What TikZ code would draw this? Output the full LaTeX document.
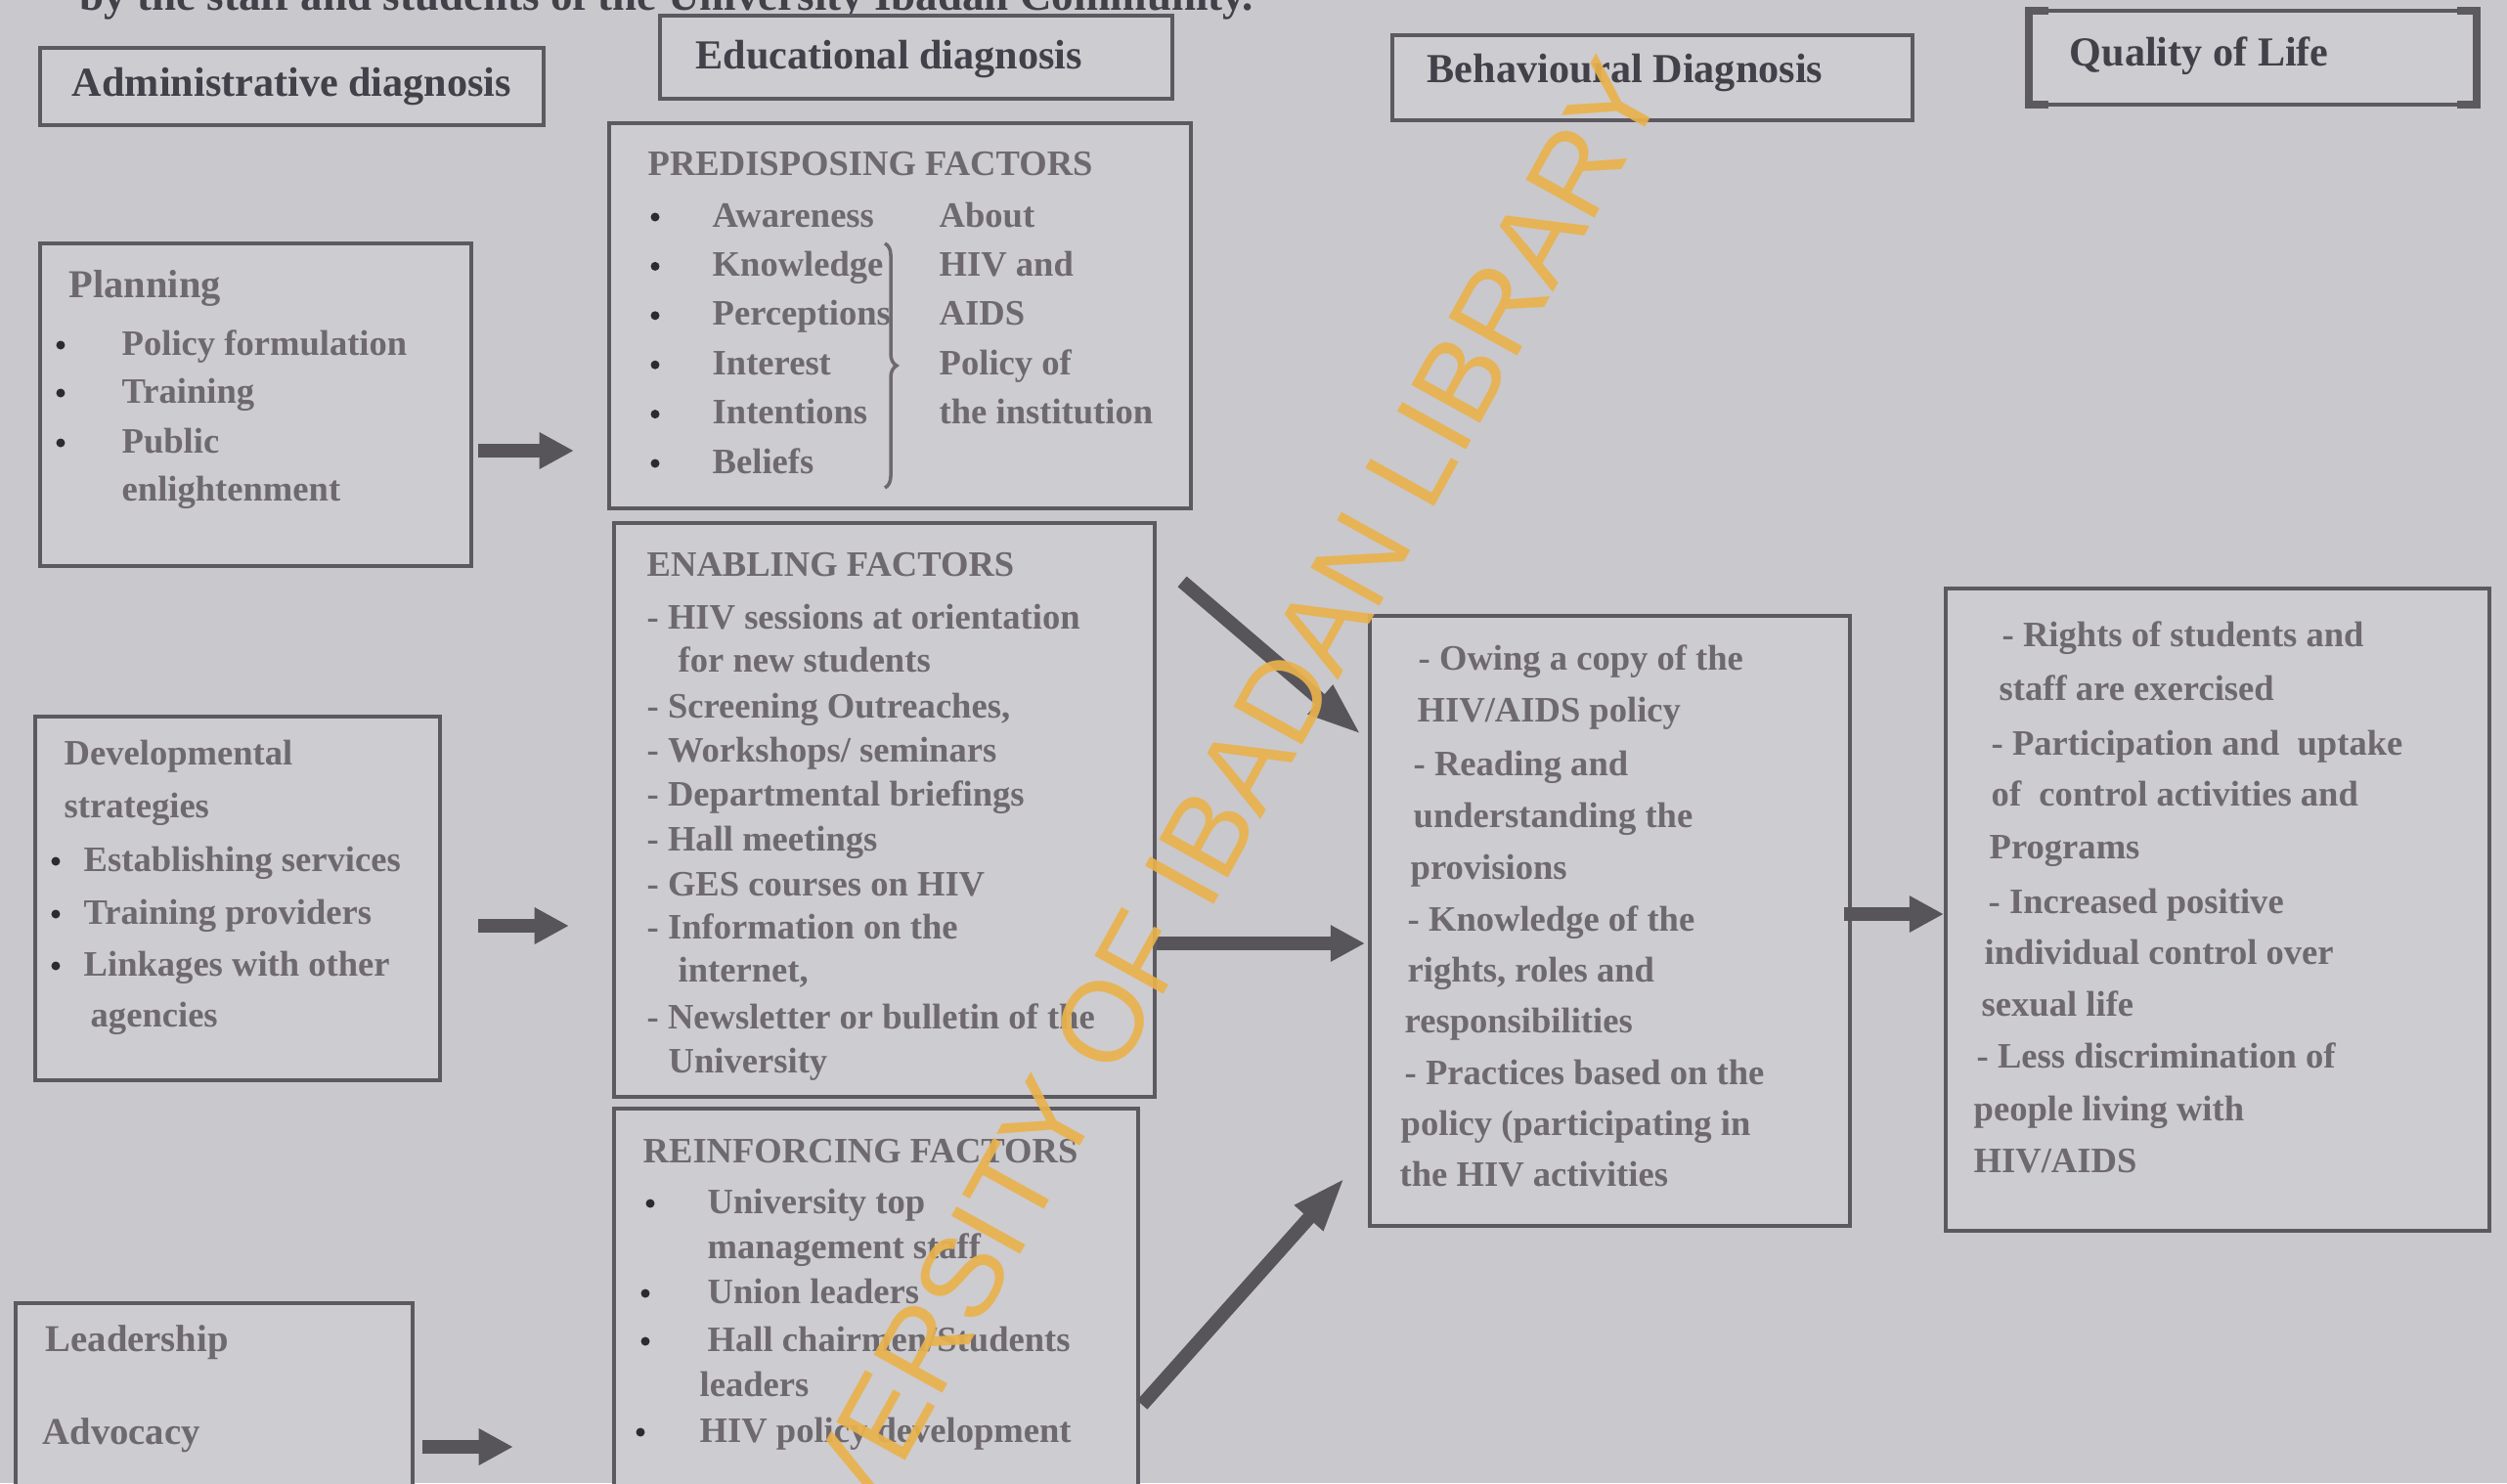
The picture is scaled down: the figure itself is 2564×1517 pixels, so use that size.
\documentclass[tikz,border=0pt]{standalone}
\usepackage{fontspec}
\setmainfont{Liberation Serif}
\newfontfamily\wmfont{Liberation Sans}
\usetikzlibrary{arrows.meta,calc,decorations.pathreplacing}
\definecolor{bgc}{HTML}{C9C8CC}
\definecolor{boxfill}{HTML}{CDCCD0}
\definecolor{edgec}{HTML}{5C5A60}
\definecolor{txtc}{HTML}{6E696D}
\definecolor{hdrc}{HTML}{42414A}
\definecolor{bulc}{HTML}{2C2B30}
\definecolor{wmc}{HTML}{E9B24C}
\definecolor{arrc}{HTML}{57555A}
\begin{document}
\begin{tikzpicture}[x=0.01cm,y=-0.01cm,
  box/.style={draw=edgec, line width=1.1pt, fill=boxfill, inner sep=0pt},
  itm/.style={anchor=base west, inner sep=0pt, text=txtc, font=\fontsize{10.4}{12}\selectfont\bfseries},
  hdr/.style={anchor=base west, inner sep=0pt, text=hdrc, font=\fontsize{12}{14}\selectfont\bfseries},
  bul/.style={circle, fill=bulc, inner sep=0pt, minimum size=0.09cm},
  blk/.style={draw=arrc, line width=4pt, -{Triangle[length=10pt,width=10pt]}},
  blkd/.style={draw=arrc, line width=4pt, -{Triangle[length=16pt,width=10pt]}}]
\useasboundingbox (0,0) rectangle (2564,1517);
\fill[bgc] (0,0) rectangle (2564,1517);
\clip (0,0) rectangle (2564,1517);

% cropped caption line at the top
\node[anchor=base west, inner sep=0pt, text=hdrc, font=\fontsize{12.8}{14}\selectfont\bfseries] (toptext) at (81,10) {by the staff and students of the University Ibadan Community.};

% column headers
\node[box, minimum width=5.15cm, minimum height=0.79cm, text=hdrc, font=\fontsize{12}{14}\selectfont\bfseries] (admin) at (298.5,88.5) {Administrative diagnosis};
\node[box, minimum width=5.24cm, minimum height=0.85cm] (edu) at (937,58.5) {};
\node[hdr] (eduT) at (711,70) {Educational diagnosis};
\node[box, minimum width=5.32cm, minimum height=0.87cm] (behh) at (1690,79.5) {};
\node[hdr] (behhT) at (1459,84) {Behavioural Diagnosis};
\node[box, draw=none, minimum width=4.54cm, minimum height=0.92cm] (qolh) at (2304,59) {};
\draw[edgec, line width=0.9pt] ([xshift=0.15cm]qolh.north west) -- ([xshift=-0.15cm]qolh.north east);
\draw[edgec, line width=0.9pt] ([xshift=0.15cm]qolh.south west) -- ([xshift=-0.15cm]qolh.south east);
\draw[edgec, line width=2.4pt] ([xshift=0.2cm]qolh.north west) -- (qolh.north west) -- (qolh.south west) -- ([xshift=0.2cm]qolh.south west);
\draw[edgec, line width=2.4pt] ([xshift=-0.2cm]qolh.north east) -- (qolh.north east) -- (qolh.south east) -- ([xshift=-0.2cm]qolh.south east);
\node[hdr] (qolhT) at (2116,67) {Quality of Life};

% administrative column
\node[box, minimum width=4.41cm, minimum height=3.30cm] (plan) at (261.5,414) {};
\node[itm, font=\fontsize{11.5}{13}\selectfont\bfseries] (planT) at (70,304) {Planning};
\foreach \y/\t [count=\i] in {353/{Policy formulation},402/Training,453/Public} {
  \node[bul] (planB\i) at (62,\y) {};
  \node[itm] (planI\i) at (124,\y+10) {\t};
}
\node[itm] (planI4) at (124,512) {enlightenment};

\node[box, minimum width=4.14cm, minimum height=3.72cm] (dev) at (243,919) {};
\node[itm] (devT1) at (65,782) {Developmental};
\node[itm] (devT2) at (65,836) {strategies};
\foreach \y/\t [count=\i] in {881/{Establishing services},935/{Training providers},988/{Linkages with other}} {
  \node[bul] (devB\i) at (57,\y) {};
  \node[itm] (devI\i) at (85,\y+10) {\t};
}
\node[itm] (devI4) at (92,1050) {agencies};

\node[box, minimum width=4.06cm, minimum height=2.07cm] (lead) at (219,1436.5) {};
\node[itm, font=\fontsize{11}{13}\selectfont\bfseries] (leadT1) at (46,1382) {Leadership};
\node[itm, font=\fontsize{11}{13}\selectfont\bfseries] (leadT2) at (43,1477) {Advocacy};

% educational column
\node[box, minimum width=5.95cm, minimum height=3.94cm] (pred) at (920.5,323) {};
\node[itm] (predT) at (662,179) {PREDISPOSING FACTORS};
\foreach \t [count=\i] in {Awareness,Knowledge,Perceptions,Interest,Intentions,Beliefs} {
  \node[bul] (predB\i) at (670,{222+50.4*(\i-1)}) {};
  \node[itm] (predI\i) at (728,{232+50.4*(\i-1)}) {\t};
}
\draw[txtc, line width=1pt, decorate, decoration={brace, amplitude=0.12cm}] (905,249) -- (905,499);
\foreach \t [count=\i] in {About,HIV and,AIDS,Policy of,the institution} {
  \node[itm] (predR\i) at (960,{232+50.4*(\i-1)}) {\t};
}

\node[box, minimum width=5.53cm, minimum height=5.87cm] (enab) at (904.5,828.5) {};
\node[itm] (enabT) at (661,589) {ENABLING FACTORS};
\foreach \x/\y/\t [count=\i] in {661/643/{- HIV sessions at orientation},693/687/{for new students},661/734/{- Screening Outreaches,},661/779/{- Workshops/ seminars},661/824/{- Departmental briefings},661/870/{- Hall meetings},661/916/{- GES courses on HIV},661/960/{- Information on the},693/1004/{internet,},661/1052/{- Newsletter or bulletin of the},683/1097/{University}} {
  \node[itm] (enabI\i) at (\x,\y) {\t};
}

\node[box, minimum width=5.36cm, minimum height=4.06cm] (reinf) at (896,1337) {};
\node[itm] (reinfT) at (657,1189) {REINFORCING FACTORS};
\foreach \x/\y/\t [count=\i] in {723/1241/{University top},723/1287/{management staff},723/1333/{Union leaders},723/1382/{Hall chairmen/Students},715/1428/{leaders},715/1475/{HIV policy development}} {
  \node[itm] (reinfI\i) at (\x,\y) {\t};
}
\foreach \x/\y [count=\i] in {665/1231,660/1323,660/1372,655/1465} {
  \node[bul] (reinfB\i) at (\x,\y) {};
}

% behavioural column
\node[box, minimum width=4.91cm, minimum height=6.24cm] (beh) at (1646.5,942) {};
\foreach \x/\y/\t [count=\i] in {1450/685/{- Owing a copy of the},1449/738/{HIV/AIDS policy},1445/793/{- Reading and},1445/846/{understanding the},1442/899/{provisions},1439/952/{- Knowledge of the},1439/1004/{rights, roles and},1436/1056/{responsibilities},1436/1109/{- Practices based on the},1432/1161/{policy (participating in},1431/1213/{the HIV activities}} {
  \node[itm] (behI\i) at (\x,\y) {\t};
}

% quality of life column
\node[box, minimum width=5.56cm, minimum height=6.57cm] (qual) at (2268,930.5) {};
\foreach \x/\y/\t [count=\i] in {2047/661/{- Rights of students and},2044/716/{staff are exercised},2036/772/{- Participation and\ \ uptake},2036/824/{of\ \ control activities and},2034/878/{Programs},2033/934/{- Increased positive},2029/986/{individual control over},2026/1039/{sexual life},2021/1092/{- Less discrimination of},2018/1146/{people living with},2018/1199/{HIV/AIDS}} {
  \node[itm] (qualI\i) at (\x,\y) {\t};
}

% connectors
\draw[blk, shorten <=0.05cm, shorten >=0.34cm] (plan.east |- 0,461) -- (pred.west |- 0,461);
\draw[blk, shorten <=0.37cm, shorten >=0.44cm] (dev.east |- 0,947) -- (enab.west |- 0,947);
\draw[blk, shorten <=0.08cm, shorten >=1.01cm] (lead.east |- 0,1480) -- (reinf.west |- 0,1480);
\draw[blkd] ($(enab.north east)+(26,62)$) -- ($(beh.west)+(-6,-190)$);
\draw[blk, shorten >=0.03cm] (enab.east |- 0,965) -- (beh.west |- 0,965);
\draw[blkd] ($(reinf.north east)+(2,305)$) -- ($(beh.south west)+(-23,-52)$);
\draw[blk, shorten <=-0.08cm] (beh.east |- 0,935) -- (qual.west |- 0,935);

% watermark
\node[rotate=61, inner sep=0pt, text=wmc, opacity=0.92, font=\wmfont\fontsize{33.2}{38}\selectfont] (wmark) at (1210,899) {UNIVERSITY OF IBADAN LIBRARY};
\end{tikzpicture}
\end{document}
